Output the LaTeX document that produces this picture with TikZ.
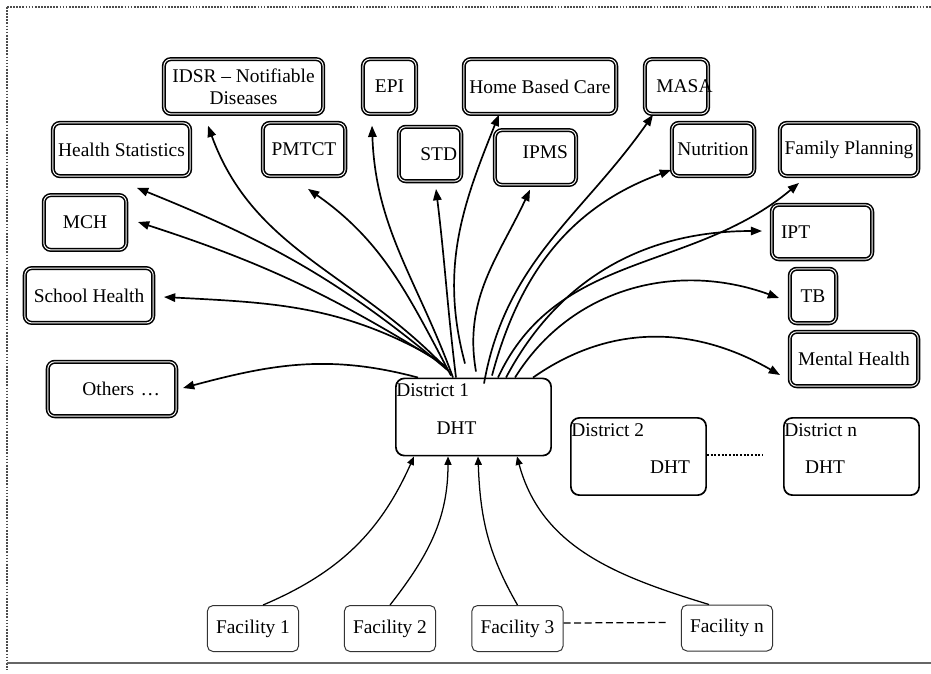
\documentclass[tikz,border=0pt]{standalone}
\usepackage{fontspec}
\setmainfont{Liberation Serif}
\usetikzlibrary{arrows.meta}

\begin{document}
\begin{tikzpicture}[x=0.025cm, y=0.025cm,
    font=\fontsize{13.8}{15.6}\selectfont,
    prog/.style={draw, double, line width=1.1pt, double distance=0.7pt, rounded corners=5pt, inner sep=0pt, minimum height=1.37cm},
    dist/.style={draw, line width=1.2pt, rounded corners=6pt, minimum width=3.38cm, minimum height=1.93cm},
    fac/.style={draw=black!80, line width=0.7pt, rounded corners=4pt, inner sep=0pt, minimum width=2.28cm, minimum height=1.15cm},
    flow/.style={-{Triangle[length=8pt,width=6pt]}, line width=1.2pt},
    feed/.style={-{Triangle[length=6pt,width=5pt]}, line width=0.9pt}]
\useasboundingbox (0,0) rectangle (931,-673);

% frame
\draw[black!70, line width=0.8pt, dash pattern=on 1.2pt off 1pt] (7,-7) -- (931,-7);
\draw[black!70, line width=0.8pt, dash pattern=on 1.2pt off 1pt] (7,-7) -- (7,-670);
\draw[black!60, line width=1.1pt] (7,-663) -- (931,-663);

% programmes
\node (idsr) [prog, minimum width=3.98cm, align=center] at (243.5,-86.5) {IDSR – Notifiable\\Diseases};
\node (epi) [prog, minimum width=1.33cm] at (389.5,-86.5) {EPI};
\node (hbc) [prog, minimum width=3.81cm] at (540,-86.5) {Home Based Care};
\node (masa) [prog, minimum width=1.58cm, label={[xshift=0.2cm]center:MASA}] at (676.5,-86.5) {};
\node (hs) [prog, minimum width=3.43cm, minimum height=1.33cm, text depth=-0.05cm] at (121.5,-149.5) {Health Statistics};
\node (pmtct) [prog, minimum width=2.06cm, minimum height=1.33cm, text depth=-0.05cm] at (304,-149.5) {PMTCT};
\node (std) [prog, minimum width=1.56cm, minimum height=1.36cm, text width=1.35cm, align=right] at (430,-154) {STD};
\node (ipms) [prog, minimum width=2.03cm, text width=1.625cm, align=right, text depth=0.25cm] at (535.5,-157.5) {IPMS};
\node (nut) [prog, minimum width=2.06cm, minimum height=1.33cm, text depth=-0.05cm] at (713,-149.5) {Nutrition};
\node (fp) [prog, minimum width=3.46cm, minimum height=1.33cm] at (849,-149.5) {Family Planning};
\node (mch) [prog, minimum width=2.06cm] at (85,-222.5) {MCH};
\node (sh) [prog, minimum width=3.21cm] at (89,-295.5) {School Health};
\node (oth) [prog, minimum width=3.21cm, minimum height=1.36cm, text width=2.4cm, align=right] at (112,-389) {Others …};
\node (ipt) [prog, minimum width=2.51cm, minimum height=1.36cm, text width=2.05cm, align=left] at (822,-232) {IPT};
\node (tb) [prog, minimum width=1.16cm, minimum height=1.36cm] at (813,-296) {TB};
\node (mh) [prog, minimum width=3.21cm, minimum height=1.36cm] at (854,-359) {Mental Health};

% districts
\node (d1) [dist, minimum width=3.88cm] at (473.5,-417) {};
\node (d2) [dist] at (638.5,-456.5) {};
\node (dn) [dist] at (851.5,-456.5) {};
\node (d1t) [anchor=west, inner sep=0pt] at ([shift={(1,-13)}]d1.north west) {District 1};
\node (d1h) at ([shift={(-17,-11)}]d1.center) {DHT};
\node (d2t) [anchor=west, inner sep=0pt] at ([shift={(1,-13)}]d2.north west) {District 2};
\node (d2h) at ([shift={(31.5,-10.5)}]d2.center) {DHT};
\node (dnt) [anchor=west, inner sep=0pt] at ([shift={(1,-13)}]dn.north west) {District n};
\node (dnh) at ([shift={(-26.5,-10.5)}]dn.center) {DHT};
\draw[line width=1pt, dash pattern=on 1.5pt off 1.1pt] ([shift={(0,1.5)}]d2.east) -- ([shift={(-20,1.5)}]dn.west);

% facilities
\node (f1) [fac] at (253,-628.5) {Facility 1};
\node (f2) [fac] at (390,-628.5) {Facility 2};
\node (f3) [fac] at (517.5,-628.5) {Facility 3};
\node (fn) [fac] at (727,-628) {Facility n};
\draw[line width=0.9pt, dash pattern=on 5pt off 2.5pt] ([shift={(0,5.5)}]f3.east) -- ([shift={(-13,5.5)}]fn.west);

% district 1 to programmes
\draw[flow] ([shift={(-55.5,0)}]d1.north) to[out=165,in=15] ([shift={(6,1)}]oth.east);
\draw[flow] ([shift={(-36.5,18)}]d1.north) to[out=150,in=-3] ([shift={(10,-1.5)}]sh.east);
\draw[flow] ([shift={(-28.5,12)}]d1.north) to[out=148,in=-18] ([shift={(11,0.5)}]mch.east);
\draw[flow] ([shift={(-26.5,8)}]d1.north) to[out=140,in=-22] ([shift={(15.5,-11)}]hs.south);
\draw[flow] ([shift={(-24.5,6)}]d1.north) to[out=133,in=-70] ([shift={(-35.5,-11)}]idsr.south);
\draw[flow] ([shift={(-22.5,2)}]d1.north) to[out=118,in=-35] ([shift={(4,-12)}]pmtct.south);
\draw[flow] ([shift={(-20.5,0)}]d1.north) to[out=110,in=-88] ([shift={(-17.5,-11)}]epi.south);
\draw[flow] ([shift={(-17.5,0)}]d1.north) to[out=97,in=-83] ([shift={(6,-7)}]std.south);
\draw[flow] ([shift={(-8.5,14)}]d1.north) to[out=105,in=-112] ([shift={(-41,0)}]hbc.south);
\draw[flow] ([shift={(2.5,6)}]d1.north) to[out=100,in=-115] ([shift={(-5.5,-4)}]ipms.south);
\draw[flow] ([shift={(10.5,-6)}]d1.north) to[out=80,in=-125] ([shift={(-23.5,0)}]masa.south);
\draw[flow] ([shift={(18.5,2)}]d1.north) to[out=75,in=-160] ([shift={(0,-20.5)}]nut.west);
\draw[flow] ([shift={(24.5,0)}]d1.north) to[out=65,in=-140] ([shift={(-50,-6)}]fp.south);
\draw[flow] ([shift={(32.5,0)}]d1.north) to[out=62,in=180] ([shift={(-9,1)}]ipt.west);
\draw[flow] ([shift={(41.5,0)}]d1.north) to[out=58,in=160] ([shift={(-10,-2)}]tb.west);
\draw[flow] ([shift={(59.5,0)}]d1.north) to[out=35,in=150] ([shift={(-9,-16)}]mh.west);

% facilities to district 1
\draw[feed] ([shift={(10,0)}]f1.north) to[out=23,in=-114] ([shift={(-59.5,0)}]d1.south);
\draw[feed] (f2.north) to[out=52,in=-90] ([shift={(-25.5,0)}]d1.south);
\draw[feed] (f3.north) to[out=120,in=-88] ([shift={(4.5,0)}]d1.south);
\draw[feed] ([shift={(-18,0)}]fn.north) to[out=163,in=-75] ([shift={(43.5,0)}]d1.south);
\end{tikzpicture}
\end{document}
